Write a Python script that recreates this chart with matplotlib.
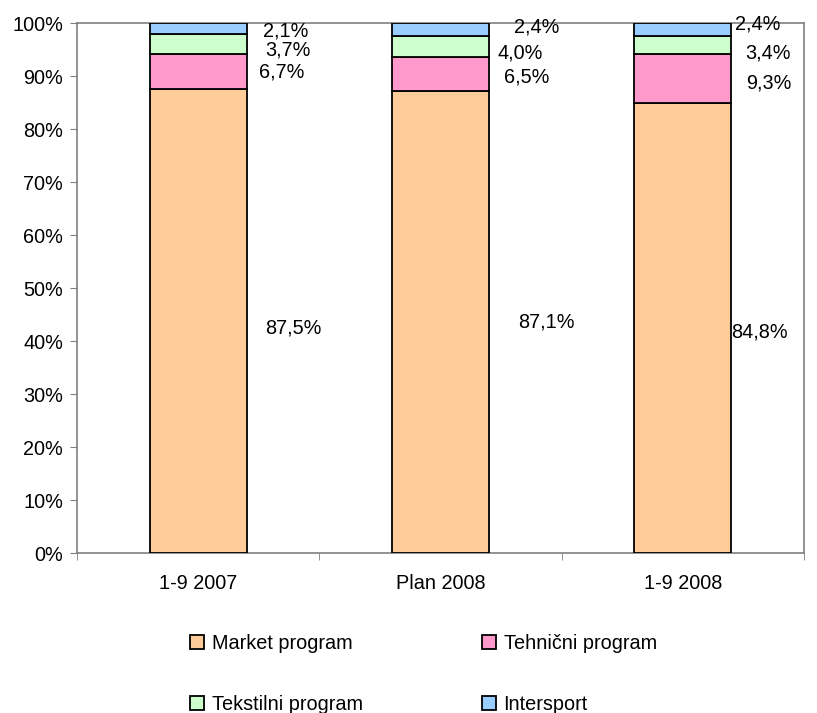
import matplotlib
matplotlib.use("Agg")
import matplotlib.pyplot as plt
from matplotlib.ticker import FuncFormatter, FixedLocator
import numpy as np

# data (shares in %)
periods = ['1-9 2007', 'Plan 2008', '1-9 2008']
series = ['Market program', 'Tehnični program', 'Tekstilni program', 'Intersport']
market = [87.5, 87.1, 84.8]
tehnicni = [6.7, 6.5, 9.3]
tekstilni = [3.7, 4.0, 3.4]
intersport = [2.1, 2.4, 2.4]

colors = ['#FFCC99', '#FF99CC', '#CCFFCC', '#99CCFF']

# label nudges in pixels (dx from bar edge, dy downward), per series per bar
label_dx = [[19, 29, 0], [12, 15, 15], [19, 9, 14], [16, 25, 4]]
label_dy = [[7, 0, 4], [0, 3, 4.5], [6, 7, 8], [2.4, -2, -5]]

plt.rcParams['font.family'] = ['Liberation Sans', 'DejaVu Sans']
plt.rcParams['font.size'] = 14.3

fig = plt.figure(figsize=(8.17, 7.13), dpi=100)
ax = fig.add_axes([0.0942, 0.2244, 0.984 - 0.0942, 0.9677 - 0.2244])

values = np.array([market, tehnicni, tekstilni, intersport])
totals = values.sum(axis=0)
shares = values / totals * 100

x = np.arange(len(periods))
width = 0.4
bottom = np.zeros(len(periods))
px = 0.72  # points per pixel at 100 dpi
handles = []
for i, name in enumerate(series):
    b = ax.bar(x, shares[i], width, bottom=bottom, color=colors[i],
               edgecolor='black', linewidth=1.3, label=name, zorder=3)
    handles.append(b)
    for j in range(len(periods)):
        txt = f"{values[i][j]:.1f}".replace('.', ',') + '%'
        ax.annotate(txt, xy=(x[j] + width / 2, bottom[j] + shares[i][j] / 2),
                    xytext=(label_dx[i][j] * px, -label_dy[i][j] * px),
                    textcoords='offset points', ha='left', va='center')
    bottom += shares[i]

ax.set_xlim(-0.5, 2.5)
ax.set_ylim(0, 100)
ax.set_yticks(np.arange(0, 101, 10))
ax.yaxis.set_major_formatter(FuncFormatter(lambda v, p: f"{v:.0f}%"))
ax.set_xticks(x)
ax.set_xticklabels(periods)
ax.xaxis.set_minor_locator(FixedLocator([-0.5, 0.5, 1.5, 2.5]))
ax.tick_params(axis='x', which='major', length=0, pad=15)
ax.tick_params(axis='x', which='minor', length=5, color='#808080', direction='out')
ax.tick_params(axis='y', length=5, color='#808080', direction='out', pad=5)
for s in ax.spines.values():
    s.set_color('#808080')
    s.set_linewidth(1.2)

# row-major order for a 2-column legend
order = [0, 2, 1, 3]
fig.legend([handles[k] for k in order], [series[k] for k in order],
           loc='center', bbox_to_anchor=(0.518, 0.055), ncol=2, frameon=False,
           handlelength=0.7, handleheight=0.7, handletextpad=0.4,
           columnspacing=6.0, labelspacing=2.1)

fig.savefig('out.png', dpi=100)
